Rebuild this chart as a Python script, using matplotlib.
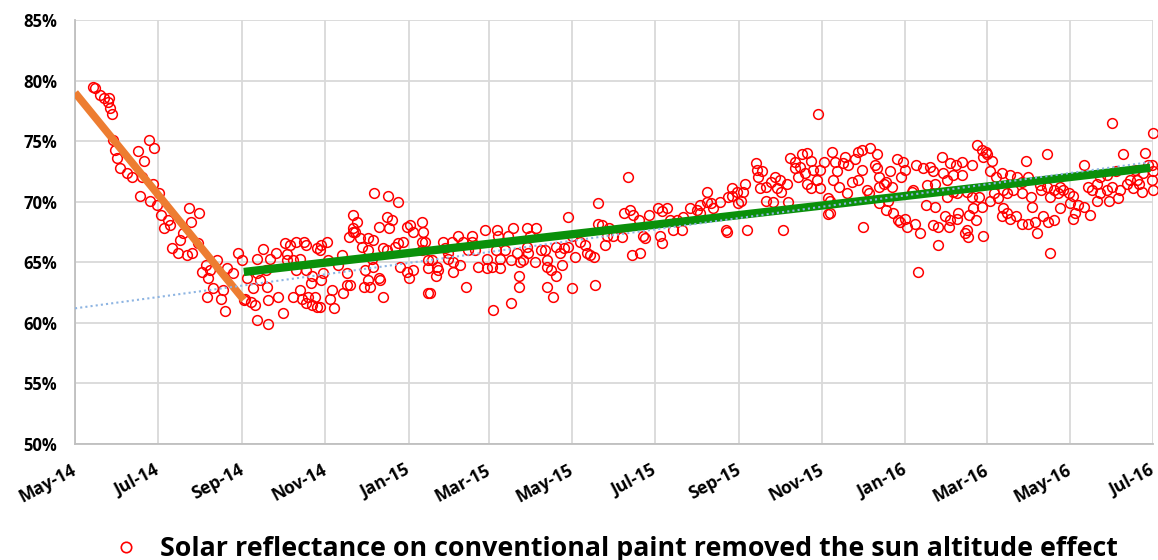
import numpy as np
import matplotlib
matplotlib.use("Agg")
import matplotlib.pyplot as plt
import matplotlib.dates as mdates
from matplotlib.lines import Line2D
from matplotlib.ticker import FuncFormatter

plt.rcParams['font.family'] = ['Open Sans', 'DejaVu Sans']

# days counted from 1 May 2014, reflectance in %
days_a = [13, 15, 18, 21, 24, 25, 26, 27, 28, 29,
          31, 33, 38, 42, 46, 48, 49, 51, 54, 55,
          57, 58, 60, 62, 63, 65, 68, 70, 71, 76,
          77, 79, 82, 84, 85, 86, 90, 91, 93, 96,
          97, 98, 99, 101, 104, 107, 109, 110, 112, 116,
          120, 123, 124]
refl_a = [79.5, 79.4, 78.8, 78.6, 78.2, 78.6, 77.7, 77.2, 75.1, 74.3,
          73.6, 72.8, 72.4, 72.0, 74.2, 70.5, 72.0, 73.4, 75.1, 70.1,
          71.5, 74.4, 69.7, 70.7, 68.9, 67.8, 68.5, 68.1, 66.2, 65.8,
          66.8, 67.4, 65.6, 69.5, 68.3, 65.8, 66.6, 69.1, 64.2, 64.8,
          62.1, 63.7, 64.4, 62.9, 65.2, 62.0, 62.7, 61.0, 64.5, 64.1,
          65.8, 65.2, 61.9]

days_b = [125, 126, 129, 131, 132, 134, 134, 134, 136, 138,
          140, 141, 142, 142, 143, 148, 149, 153, 154, 156,
          156, 158, 160, 160, 162, 162, 165, 165, 167, 168,
          170, 170, 170, 171, 173, 174, 174, 176, 178, 178,
          180, 180, 181, 181, 182, 185, 186, 187, 189, 190,
          193, 196, 197, 200, 200, 201, 202, 204, 204, 204,
          206, 207, 209, 211, 212, 213, 215, 215, 215, 217,
          218, 219, 219, 220, 223, 223, 224, 226, 226, 229,
          229, 230, 231, 233, 235, 237, 237, 239, 241, 244,
          244, 245, 246, 248, 248, 255, 255, 256, 257, 259]
refl_b = [62.0, 63.7, 61.7, 62.9, 61.5, 65.3, 64.1, 60.2, 63.5, 66.1,
          64.4, 63.0, 59.9, 61.9, 65.3, 65.8, 62.1, 60.8, 66.6, 65.7,
          65.2, 66.4, 65.2, 62.1, 66.7, 64.4, 65.3, 62.7, 62.0, 66.7,
          66.4, 64.4, 61.6, 62.1, 63.3, 63.9, 61.5, 62.1, 61.3, 66.2,
          61.3, 66.0, 66.4, 63.5, 64.1, 66.7, 65.2, 62.0, 62.7, 61.2,
          64.8, 65.6, 62.5, 64.1, 63.1, 67.1, 63.1, 67.8, 67.5, 68.9,
          67.5, 68.3, 67.0, 66.3, 63.0, 64.4, 67.0, 66.0, 63.5, 63.0,
          65.3, 66.8, 64.6, 70.7, 67.9, 63.7, 63.5, 62.1, 66.2, 68.7,
          66.0, 70.5, 67.8, 68.5, 66.3, 66.6, 70.0, 64.6, 66.7, 67.9,
          64.2, 63.7, 68.1, 67.5, 64.4, 68.3, 66.7, 67.5, 66.7, 62.5]

days_c = [255, 259, 259, 261, 262, 265, 266, 267, 270, 272,
          274, 274, 277, 278, 278, 281, 283, 285, 287, 289,
          292, 292, 294, 296, 301, 303, 303, 306, 307, 309,
          310, 311, 312, 312, 316, 318, 320, 320, 322, 325,
          326, 326, 327, 329, 332, 332, 333, 334, 338, 339,
          342, 345, 347, 347, 347, 350, 351, 353, 353, 356,
          358, 359, 362, 362, 365, 365, 367, 371, 375, 376,
          378, 381, 382, 384, 384, 387, 389, 391]
refl_c = [66.0, 65.2, 64.5, 62.5, 65.2, 63.9, 64.6, 64.4, 66.7, 66.2,
          65.8, 65.3, 66.7, 65.0, 64.2, 67.2, 64.8, 66.7, 63.0, 66.0,
          67.2, 66.7, 66.0, 64.6, 67.7, 65.3, 64.5, 64.6, 61.1, 66.0,
          67.7, 67.2, 65.3, 64.5, 66.0, 67.2, 65.2, 61.6, 67.8, 65.8,
          63.9, 63.0, 65.0, 65.2, 67.8, 66.3, 65.8, 67.2, 65.0, 67.8,
          66.0, 66.0, 65.2, 64.6, 63.0, 64.4, 62.1, 66.3, 63.9, 65.8,
          64.8, 66.2, 68.7, 66.3, 67.2, 62.9, 65.4, 66.7, 66.4, 65.8,
          65.6, 65.4, 63.1, 68.2, 69.9, 68.1, 66.4, 67.2]

days_d = [392, 395, 402, 403, 406, 408, 409, 410, 414, 415,
          417, 419, 422, 428, 430, 431, 431, 435, 437, 439,
          442, 446, 447, 452, 457, 459, 459, 464, 464, 467,
          469, 474, 478, 479, 480, 483, 483, 486, 487, 489,
          491, 492, 494, 500, 501, 502, 503, 505, 508, 508,
          511, 513, 514, 516, 518, 519, 520, 523, 524, 525]
refl_d = [67.8, 67.2, 67.1, 69.1, 72.0, 69.3, 65.6, 68.9, 68.5, 65.8,
          67.2, 67.0, 68.9, 69.5, 67.2, 69.2, 66.6, 69.5, 68.5, 67.7,
          68.5, 67.7, 68.7, 69.5, 69.3, 69.7, 69.1, 70.8, 70.0, 69.9,
          69.5, 70.0, 67.7, 67.5, 70.4, 71.1, 70.5, 70.8, 69.9, 70.1,
          70.8, 71.5, 67.7, 73.2, 72.6, 72.0, 71.1, 72.5, 71.2, 70.1,
          71.6, 70.0, 72.0, 71.1, 71.8, 70.8, 67.7, 71.5, 70.0, 73.6]

days_e = [529, 529, 531, 533, 534, 536, 538, 538, 541, 541,
          542, 545, 546, 547, 547, 550, 553, 553, 555, 555,
          556, 557, 558, 560, 561, 564, 566, 567, 568, 571,
          573, 575, 575, 578, 578, 579, 582, 583, 584, 588,
          589, 589, 591, 591, 591, 594, 596, 596, 597, 599,
          600, 601, 604, 605, 606, 607, 608, 610, 610, 611,
          615, 616, 617, 618, 619, 621, 623, 625, 626, 628,
          630, 630, 632, 632, 634, 634, 637, 638, 639, 641,
          641, 642, 643, 643, 645, 645, 647, 648, 648, 649,
          652, 652, 654, 655, 655, 656]
refl_e = [73.3, 72.8, 72.0, 72.9, 73.9, 72.4, 74.0, 71.5, 73.4, 71.1,
          72.6, 71.8, 77.2, 71.1, 72.6, 73.3, 70.3, 69.0, 70.1, 69.1,
          74.1, 71.8, 73.3, 72.5, 71.2, 73.2, 73.7, 70.7, 73.0, 71.6,
          73.5, 71.8, 74.1, 74.3, 72.6, 67.9, 71.0, 70.7, 74.4, 73.0,
          73.9, 72.8, 72.0, 71.2, 69.9, 71.5, 71.6, 69.3, 70.1, 72.5,
          71.2, 69.1, 73.5, 68.5, 68.3, 72.0, 73.3, 72.6, 68.6, 67.9,
          70.8, 71.0, 68.2, 73.0, 64.2, 67.4, 72.8, 69.7, 71.4, 72.9,
          68.1, 72.5, 71.5, 69.6, 67.9, 66.4, 73.7, 72.4, 68.8, 70.4,
          71.8, 67.9, 73.2, 68.5, 70.8, 72.2, 73.0, 70.7, 68.6, 69.1,
          73.3, 72.2, 67.4, 67.7, 70.8, 67.1]

days_f = [657, 659, 659, 660, 662, 663, 664, 666, 666, 667,
          667, 669, 670, 672, 672, 674, 675, 677, 678, 681,
          681, 682, 682, 685, 685, 687, 687, 689, 691, 692,
          696, 696, 696, 699, 700, 700, 702, 703, 705, 707,
          709, 710, 711, 714, 714, 715, 716, 716, 719, 719,
          722, 724, 724, 726, 730, 731, 733, 733, 735, 737,
          741, 741, 744, 746, 747, 751, 751, 753, 753, 758,
          758, 760, 762, 762, 765, 766, 768, 770, 773, 775,
          777, 779, 780, 782, 784, 785, 786, 788, 791, 791,
          792, 792, 792]
refl_f = [68.9, 70.4, 73.0, 69.5, 68.5, 74.7, 70.4, 74.3, 69.6, 67.2,
          73.7, 74.1, 73.9, 72.5, 70.1, 73.4, 70.7, 72.0, 70.3, 72.4,
          68.8, 71.0, 69.5, 70.7, 69.1, 72.2, 68.6, 71.0, 68.8, 72.0,
          71.6, 70.7, 68.2, 73.4, 72.0, 68.2, 70.4, 69.6, 68.3, 67.4,
          71.4, 71.0, 68.8, 73.9, 71.2, 68.3, 70.4, 65.8, 71.0, 68.5,
          70.7, 71.2, 69.5, 71.0, 70.7, 69.9, 70.5, 68.6, 69.1, 69.7,
          73.0, 69.6, 71.2, 68.9, 71.0, 71.5, 70.1, 70.7, 72.0, 71.0,
          72.2, 70.1, 71.2, 76.5, 72.5, 70.3, 71.0, 73.9, 71.5, 71.8,
          71.1, 72.6, 71.8, 71.5, 70.8, 72.4, 74.0, 73.0, 73.0, 71.8,
          72.5, 71.0, 75.7]

# trend lines (end points)
fit_summer_days = [0, 124]
fit_summer = [79.0, 61.9]
fit_after_days = [124, 790]
fit_after = [64.2, 72.8]
fit_all_days = [0, 792]
fit_all = [61.2, 73.3]

start = np.datetime64('2014-05-01')


def to_dates(d):
    return start + np.array(d).astype('timedelta64[D]')


days = days_a + days_b + days_c + days_d + days_e + days_f
refl = refl_a + refl_b + refl_c + refl_d + refl_e + refl_f

fig = plt.figure(figsize=(11.58, 5.6), dpi=100)
ax = fig.add_axes([0.0648, 0.2071, 0.9309, 0.7572])

ax.plot(to_dates(days), np.array(refl) / 100, linestyle='none', marker='o',
        ms=7, mfc='none', mec='#FF0000', mew=1.1, clip_on=False, zorder=3)
ax.plot(to_dates(fit_summer_days), np.array(fit_summer) / 100, color='#ED7D31',
        lw=5.5, solid_capstyle='butt', zorder=4)
ax.plot(to_dates(fit_after_days), np.array(fit_after) / 100, color='#0A900A',
        lw=6, solid_capstyle='butt', zorder=4)
ax.plot(to_dates(fit_all_days), np.array(fit_all) / 100, color='#8DB4E2',
        lw=1.5, linestyle=(0, (1, 1.5)), zorder=5)

ax.set_xlim(np.datetime64('2014-05-01'), np.datetime64('2016-07-01'))
ax.set_ylim(0.50, 0.85)
ax.set_yticks(np.arange(0.50, 0.851, 0.05))
ax.yaxis.set_major_formatter(FuncFormatter(lambda v, p: '%d%%' % round(v * 100)))
ax.xaxis.set_major_locator(mdates.MonthLocator(bymonth=[1, 3, 5, 7, 9, 11]))
ax.xaxis.set_major_formatter(mdates.DateFormatter('%b-%y'))

ax.grid(True, color='#D9D9D9', lw=1.3)
ax.set_axisbelow(True)
for s in ['top', 'right']:
    ax.spines[s].set_visible(False)
for s in ['left', 'bottom']:
    ax.spines[s].set_color('#BFBFBF')
    ax.spines[s].set_linewidth(1.3)

ax.tick_params(axis='y', length=0, pad=13, labelsize=12)
ax.tick_params(axis='x', length=0, pad=18, labelsize=12.5)
for lab in ax.get_yticklabels():
    lab.set_fontweight('bold')
for lab in ax.get_xticklabels():
    lab.set_fontweight('bold')
    lab.set_rotation(28)
    lab.set_rotation_mode('anchor')
    lab.set_ha('right')
    lab.set_va('center')

handle = Line2D([], [], linestyle='none', marker='o', ms=7.5, mfc='none',
                mec='#FF0000', mew=1.2)
fig.legend([handle], ['Solar reflectance on conventional paint removed the sun altitude effect'],
           loc='lower center', bbox_to_anchor=(0.5255, -0.047), frameon=False,
           prop={'size': 19.3, 'weight': 'bold'}, handletextpad=0.3)

fig.savefig('out.png', dpi=100)
